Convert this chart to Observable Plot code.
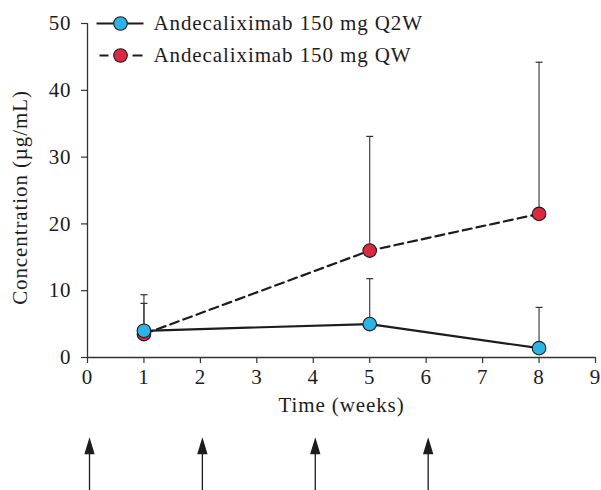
<!DOCTYPE html>
<html>
<head>
<meta charset="utf-8">
<script src="https://cdn.jsdelivr.net/npm/d3@7"></script>
<script src="https://cdn.jsdelivr.net/npm/@observablehq/plot@0.6"></script>
<style>
  html, body { margin: 0; padding: 0; background: #fff; }
  #chart svg text { letter-spacing: 0.9px; font-family: "Liberation Serif", "Times New Roman", serif; }
</style>
</head>
<body>
<div id="chart"></div>
<script>
// ---- data ----
const weeks = [1, 5, 8];
const q2wMean = [4.0, 5.0, 1.4];
const q2wUpper = [9.4, 11.8, 7.5];
const qwMean = [3.5, 16.0, 21.5];
const qwUpper = [8.1, 33.1, 44.2];
const doseWeeks = [0, 2, 4, 6];
const xTicks = [0, 1, 2, 3, 4, 5, 6, 7, 8, 9];
const yTicks = [0, 10, 20, 30, 40, 50];
const seriesNames = ["Andecaliximab 150 mg Q2W", "Andecaliximab 150 mg QW"];
const xLabel = "Time (weeks)";
const yLabel = "Concentration (\u00b5g/mL)";

// ---- build rows ----
const q2w = weeks.map((w, i) => ({week: w, mean: q2wMean[i], upper: q2wUpper[i]}));
const qw = weeks.map((w, i) => ({week: w, mean: qwMean[i], upper: qwUpper[i]}));

const BLUE = "#2db3e6";
const RED = "#dc2840";
const INK = "#1c1c1c";
const FONT = "Liberation Serif, Times New Roman, serif";
const FS = 21;

// custom symbols
const capSymbol = {draw(ctx) { ctx.moveTo(-3.5, 0); ctx.lineTo(3.5, 0); }};
const arrowSymbol = {draw(ctx) {
  ctx.moveTo(0, 0); ctx.lineTo(0, -40);
  ctx.moveTo(0, -51); ctx.lineTo(4.3, -37); ctx.lineTo(-4.3, -37); ctx.closePath();
}};
const solidSample = {draw(ctx) { ctx.moveTo(-24, 0); ctx.lineTo(23, 0); }};
const dashSample = {draw(ctx) {
  ctx.moveTo(-21, 0); ctx.lineTo(-12, 0);
  ctx.moveTo(12, 0); ctx.lineTo(22, 0);
}};

const chart = Plot.plot({
  width: 601,
  height: 490,
  marginLeft: 87,
  marginRight: 6,
  marginTop: 23,
  marginBottom: 133,
  style: {fontFamily: FONT, fontSize: FS + "px", color: INK, background: "#fff"},
  x: {domain: [0, 9]},
  y: {domain: [0, 50]},
  marks: [
    Plot.axisX({ticks: xTicks, tickSize: 6, tickPadding: 6, label: null, stroke: "#333", strokeWidth: 1.2, fontSize: FS, fontFamily: FONT, fill: INK}),
    Plot.axisY({ticks: yTicks, tickSize: 6, tickPadding: 10, label: null, stroke: "#333", strokeWidth: 1.2, fontSize: FS, fontFamily: FONT, fill: INK}),
    Plot.ruleY([0], {stroke: "#333", strokeWidth: 1.3}),
    Plot.ruleX([0], {stroke: "#333", strokeWidth: 1.3}),
    // error bars
    Plot.ruleX(qw, {x: "week", y1: "mean", y2: "upper", stroke: "#333", strokeWidth: 1.1}),
    Plot.dot(qw, {x: "week", y: "upper", symbol: capSymbol, stroke: "#333", strokeWidth: 1.2, fill: "none"}),
    Plot.ruleX(q2w, {x: "week", y1: "mean", y2: "upper", stroke: "#333", strokeWidth: 1.1}),
    Plot.dot(q2w, {x: "week", y: "upper", symbol: capSymbol, stroke: "#333", strokeWidth: 1.2, fill: "none"}),
    // lines
    Plot.line(qw, {x: "week", y: "mean", stroke: INK, strokeWidth: 2.2, strokeDasharray: "9,5"}),
    Plot.line(q2w, {x: "week", y: "mean", stroke: INK, strokeWidth: 2.2}),
    // points
    Plot.dot(qw, {x: "week", y: "mean", r: 6.8, fill: RED, stroke: INK, strokeWidth: 1.1}),
    Plot.dot(q2w, {x: "week", y: "mean", r: 6.8, fill: BLUE, stroke: INK, strokeWidth: 1.1}),
    // axis labels
    Plot.text([xLabel], {frameAnchor: "bottom", dy: 54, fontSize: FS, fill: INK}),
    Plot.text([yLabel], {frameAnchor: "left", textAnchor: "middle", dx: -67, dy: 7, rotate: -90, fontSize: FS, fill: INK}),
    // dosing arrows
    Plot.dot(doseWeeks, {x: d => d, frameAnchor: "bottom", dx: 2, dy: 133, symbol: arrowSymbol, fill: INK, stroke: INK, strokeWidth: 1.3}),
    // legend
    Plot.dot([seriesNames[0]], {frameAnchor: "top-left", dx: 33, dy: 0, symbol: solidSample, stroke: INK, strokeWidth: 2.2, fill: "none"}),
    Plot.dot([seriesNames[0]], {frameAnchor: "top-left", dx: 33, dy: 0, r: 6.8, fill: BLUE, stroke: INK, strokeWidth: 1.1}),
    Plot.text([seriesNames[0]], {frameAnchor: "top-left", dx: 66, dy: 0, textAnchor: "start", lineAnchor: "middle", fontSize: FS, fill: INK}),
    Plot.dot([seriesNames[1]], {frameAnchor: "top-left", dx: 33, dy: 32, symbol: dashSample, stroke: INK, strokeWidth: 2.2, fill: "none"}),
    Plot.dot([seriesNames[1]], {frameAnchor: "top-left", dx: 33, dy: 32, r: 6.8, fill: RED, stroke: INK, strokeWidth: 1.1}),
    Plot.text([seriesNames[1]], {frameAnchor: "top-left", dx: 66, dy: 32, textAnchor: "start", lineAnchor: "middle", fontSize: FS, fill: INK})
  ]
});
document.getElementById("chart").appendChild(chart);
</script>
</body>
</html>
